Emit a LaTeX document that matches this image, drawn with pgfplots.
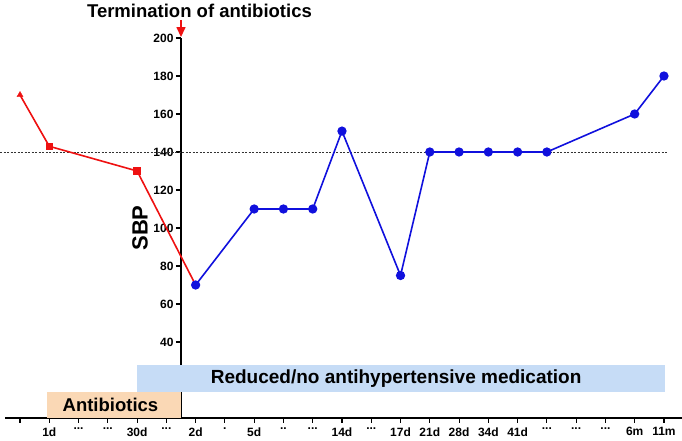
\documentclass[border=0pt]{standalone}
\usepackage{fontspec}
\setmainfont{Liberation Sans}
\usepackage{pgfplots}
\pgfplotsset{compat=1.18}
\usetikzlibrary{arrows.meta}
\definecolor{bluebox}{HTML}{C6DCF6}
\definecolor{peach}{HTML}{FAD8B5}
\definecolor{myred}{HTML}{EE1111}
\definecolor{myblue}{HTML}{1010DD}
\begin{document}
\begin{tikzpicture}
\useasboundingbox (-181pt,-23pt) rectangle (501pt,418pt);
\begin{axis}[
  anchor=origin, at={(0pt,0pt)},
  x=29.27pt, y=1.9pt,
  xmin=-6.01, xmax=17.1, ymin=0, ymax=200,
  axis x line*=bottom, axis y line*=middle,
  clip=false,
  /pgf/number format/assume math mode=true,
  xtick={-5.5,-4.5,-3.5,-2.5,-1.5,-0.5,0.5,1.5,2.5,3.5,4.5,5.5,6.5,7.5,8.5,9.5,10.5,11.5,12.5,13.5,14.5,15.5,16.5},
  xticklabels={{},1d,{.{}.{}.},{.{}.{}.},30d,{.{}.{}.},2d,.,5d,{.{}.},{.{}.{}.},14d,{.{}.{}.},17d,21d,28d,34d,41d,{.{}.{}.},{.{}.{}.},{.{}.{}.},6m,11m},
  ytick={40,60,80,100,120,140,160,180,200},
  tick align=outside,
  major tick length=5pt,
  axis line style={line width=1.2pt, black},
  every tick/.style={line width=1.1pt, black},
  xticklabel style={font=\bfseries\fontsize{12}{14}\selectfont, yshift=-1pt},
  yticklabel style={font=\bfseries\fontsize{12}{14}\selectfont, xshift=1pt},
  ylabel={SBP},
  every axis y label/.style={at={(axis cs:-1.4,100)}, rotate=90, anchor=center, font=\bfseries\fontsize{22}{26}\selectfont},
  title={Termination of antibiotics},
  every axis title/.style={at={(axis cs:0.63,214.2)}, anchor=center, font=\bfseries\fontsize{18.5}{22}\selectfont},
]
\draw[black!80, line width=0.6pt, dash pattern=on 2pt off 1.5pt] (axis cs:-6.183,140) -- (axis cs:16.64,140);
\fill[bluebox] (axis cs:-1.5,13.7) rectangle (axis cs:16.54,27.9);
\node[font=\bfseries\fontsize{19}{22}\selectfont] at (axis cs:7.35,20.7) {Reduced/no antihypertensive medication};
\fill[peach] (axis cs:-4.58,0) rectangle (axis cs:0,13.7);
\node[font=\bfseries\fontsize{18.5}{22}\selectfont] at (axis cs:-2.41,6.8) {Antibiotics};
\draw[myred, line width=1.5pt, -{Triangle[width=9pt,length=10pt]}] (axis cs:0,209.5) -- (axis cs:0,200.5);
\addplot[myred, line width=1.6pt, mark=none] coordinates {(-5.5,170) (-4.5,143) (-1.5,130) (0.5,70)};
\addplot[myred, only marks, mark=triangle*, mark size=3.5pt] coordinates {(-5.5,170)};
\addplot[myred, only marks, mark=square*, mark size=3.4pt] coordinates {(-4.5,143) (-1.5,130)};
\addplot[myblue, line width=1.6pt, mark=*, mark size=3.8pt] coordinates {
(0.5,70) (2.5,110) (3.5,110) (4.5,110) (5.5,151) (7.5,75) (8.5,140) (9.5,140) (10.5,140) (11.5,140) (12.5,140) (15.5,160) (16.5,180)};
\end{axis}
\end{tikzpicture}
\end{document}
